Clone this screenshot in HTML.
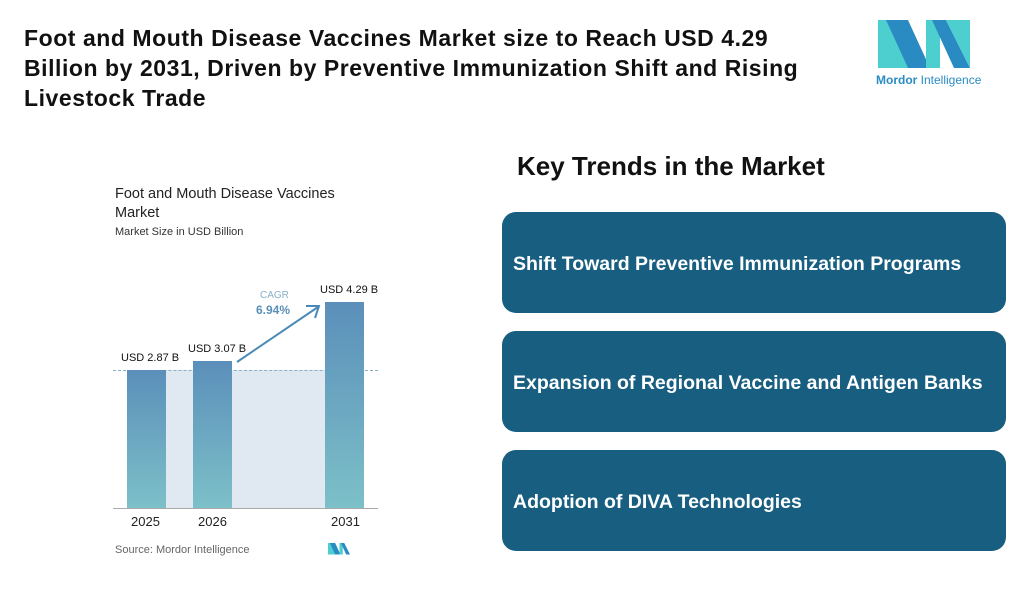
<!DOCTYPE html><html><head><style>
body{margin:0;width:1036px;height:600px;background:#fff;font-family:"Liberation Sans",sans-serif;position:relative;overflow:hidden}
.a{position:absolute}
h1{position:absolute;left:24px;top:23px;margin:0;font-size:23px;letter-spacing:0.55px;line-height:30px;font-weight:bold;color:#111;white-space:nowrap}
.box{position:absolute;left:502px;width:504px;height:101px;background:#175e80;border-radius:14px;color:#fff;font-weight:bold;font-size:19.5px;display:flex;align-items:center;padding-left:11px;padding-top:3px;box-sizing:border-box}
.bar{position:absolute;width:39px;background:linear-gradient(#5b8fba,#7cc0c8)}
.s{font-size:11px;color:#111}
</style></head><body>
<h1>Foot and Mouth Disease Vaccines Market size to Reach USD 4.29<br>Billion by 2031, Driven by Preventive Immunization Shift and Rising<br>Livestock Trade</h1>
<svg class="a" style="left:878px;top:20px" width="92" height="50" viewBox="0 0 92 50">
<polygon points="0,0 20,0 44,48 0,48" fill="#4dcfd0"/>
<polygon points="8,0 30,0 52,48 30,48" fill="#2a8bc3"/>
<polygon points="48,0 62,0 62,48 48,48" fill="#4dcfd0"/>
<polygon points="54,0 68,0 92,48 76,48" fill="#2a8bc3"/>
<polygon points="68,0 92,0 92,48" fill="#4dcfd0"/>
</svg>
<div class="a" style="left:876px;top:73px;font-size:12px;color:#2a8bc3"><b>Mordor</b> Intelligence</div>
<div class="a" style="left:517px;top:151px;font-size:26px;font-weight:bold;color:#111">Key Trends in the Market</div>
<div class="box" style="top:212px">Shift Toward Preventive Immunization Programs</div>
<div class="box" style="top:331px">Expansion of Regional Vaccine and Antigen Banks</div>
<div class="box" style="top:450px">Adoption of DIVA Technologies</div>
<div class="a" style="left:115px;top:185px;font-size:14.5px;color:#222;line-height:19px">Foot and Mouth Disease Vaccines<br>Market</div>
<div class="a" style="left:115px;top:226px;font-size:11px;color:#333">Market Size in USD Billion</div>
<div class="a" style="left:166px;top:370px;width:159px;height:138px;background:#e0e9f1"></div>
<div class="a" style="left:113px;top:370px;width:265px;border-top:1px dashed #8ab0c8"></div>
<div class="bar" style="left:127px;top:370px;height:138px"></div>
<div class="bar" style="left:193px;top:361px;height:147px"></div>
<div class="bar" style="left:325px;top:302px;height:206px"></div>
<div class="a" style="left:113px;top:508px;width:265px;height:1px;background:#aaa"></div>
<div class="a s" style="left:121px;top:352px">USD 2.87 B</div>
<div class="a s" style="left:188px;top:343px">USD 3.07 B</div>
<div class="a s" style="left:320px;top:284px">USD 4.29 B</div>
<div class="a" style="left:260px;top:290px;font-size:10px;color:#8ab0c8">CAGR</div>
<div class="a" style="left:256px;top:303px;font-size:12px;color:#5a90b8;font-weight:bold">6.94%</div>
<svg class="a" style="left:230px;top:298px" width="95" height="70"><line x1="7" y1="64" x2="88" y2="9" stroke="#4a8ab8" stroke-width="2"/><polyline points="76,8 89,8 85,20" fill="none" stroke="#4a8ab8" stroke-width="2"/></svg>
<div class="a" style="left:131px;top:514px;font-size:13px;color:#222">2025</div>
<div class="a" style="left:198px;top:514px;font-size:13px;color:#222">2026</div>
<div class="a" style="left:331px;top:514px;font-size:13px;color:#222">2031</div>
<div class="a" style="left:115px;top:544px;font-size:11px;color:#666">Source: Mordor Intelligence</div>
<svg class="a" style="left:328px;top:543px" width="22" height="12" viewBox="0 0 92 50"><polygon points="0,0 20,0 44,48 0,48" fill="#4dcfd0"/><polygon points="8,0 30,0 52,48 30,48" fill="#2a8bc3"/><polygon points="48,0 62,0 62,48 48,48" fill="#4dcfd0"/><polygon points="54,0 68,0 92,48 76,48" fill="#2a8bc3"/></svg>
</body></html>
